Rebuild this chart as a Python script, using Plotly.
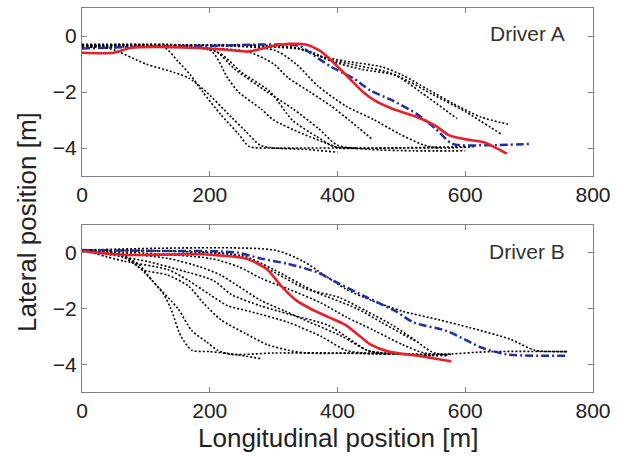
import plotly.graph_objects as go
from plotly.subplots import make_subplots

# ---------------- Driver A (top panel) ----------------
a_red_x = [0, 50, 77, 150, 200, 230, 262, 300, 325, 350, 374, 396, 418, 440, 458, 486, 525, 553, 575, 603, 630, 665]
a_red_y = [-0.6, -0.6, -0.42, -0.4, -0.45, -0.5, -0.55, -0.35, -0.28, -0.3, -0.55, -1.0, -1.5, -2.0, -2.3, -2.6, -2.9, -3.2, -3.55, -3.7, -3.8, -4.2]

a_blue_x = [0, 100, 200, 340, 357, 390, 424, 452, 486, 525, 553, 580, 637, 704]
a_blue_y = [-0.45, -0.38, -0.35, -0.35, -0.6, -1.1, -1.5, -1.95, -2.3, -2.8, -3.3, -3.85, -3.9, -3.85]

a_dot_x = [
    [0, 44, 100, 144, 167, 190, 234, 256, 279, 300, 350, 400],
    [0, 128, 150, 170, 189, 217, 245, 262, 290, 350, 420, 500, 560],
    [0, 200, 228, 245, 280, 300, 346, 390, 402, 480, 600],
    [0, 205, 240, 290, 330, 370, 400, 450, 520, 600],
    [0, 210, 250, 295, 329, 368, 395, 430],
    [0, 257, 300, 323, 357, 390, 418, 455],
    [0, 300, 335, 370, 413, 458, 497, 536, 560, 614],
    [0, 330, 370, 413, 469, 502, 541, 580, 625, 667],
    [0, 340, 380, 430, 480, 510, 550, 600, 656],
    [0, 350, 390, 440, 490, 530, 587],
]
a_dot_y = [
    [-0.4, -0.45, -1.0, -1.3, -1.5, -1.9, -2.9, -3.4, -3.9, -4.0, -4.05, -4.15],
    [-0.4, -0.4, -0.9, -1.4, -2.0, -2.8, -3.5, -3.95, -4.0, -4.0, -4.0, -4.0, -4.0],
    [-0.35, -0.5, -1.5, -2.0, -2.6, -3.0, -3.5, -3.9, -4.0, -4.0, -3.95],
    [-0.35, -0.5, -1.2, -2.0, -2.6, -3.3, -3.9, -4.05, -4.1, -4.1],
    [-0.35, -0.55, -1.3, -2.0, -3.0, -3.6, -3.95, -4.0],
    [-0.4, -0.55, -1.0, -1.5, -2.0, -2.5, -3.0, -3.7],
    [-0.35, -0.5, -1.0, -1.8, -2.5, -3.0, -3.5, -3.9, -4.0, -3.95],
    [-0.35, -0.4, -0.7, -0.9, -1.1, -1.4, -1.9, -2.4, -2.9, -3.15],
    [-0.35, -0.45, -0.8, -1.05, -1.3, -1.6, -2.1, -2.7, -3.5],
    [-0.3, -0.5, -0.9, -1.2, -1.4, -2.0, -2.95],
]

# ---------------- Driver B (bottom panel) ----------------
b_red_x = [0, 50, 77, 190, 217, 256, 290, 312, 335, 357, 385, 413, 435, 452, 480, 525, 578]
b_red_y = [0.05, -0.05, -0.08, -0.05, -0.1, -0.2, -0.6, -1.2, -1.7, -2.0, -2.3, -2.6, -3.0, -3.3, -3.55, -3.7, -3.9]

b_blue_x = [0, 100, 217, 245, 279, 323, 368, 402, 446, 491, 519, 570, 598, 625, 665, 760]
b_blue_y = [0.1, 0.07, 0.05, 0.0, -0.2, -0.4, -0.7, -1.1, -1.6, -2.1, -2.5, -2.8, -3.1, -3.4, -3.65, -3.7]

b_dot_x = [
    [0, 50, 88, 110, 128, 139, 155, 172, 200, 240, 279],
    [0, 50, 88, 110, 150, 172, 195, 212, 234, 300, 400, 480],
    [0, 66, 94, 134, 167, 190, 217, 256, 290, 323, 350, 450, 560, 640, 760],
    [0, 66, 134, 167, 200, 228, 262, 323, 374, 413, 440, 520, 570],
    [0, 100, 150, 206, 234, 279, 323, 385, 413, 446, 470, 550],
    [0, 134, 184, 217, 245, 279, 318, 357, 407, 446, 470, 560],
    [0, 200, 245, 279, 323, 374, 413, 458, 502, 536, 581],
    [0, 230, 267, 301, 351, 402, 446, 486, 519, 547, 575],
    [0, 300, 346, 379, 413, 452, 502, 558, 609, 670, 709, 760],
    [0, 250, 300, 365, 430, 469, 508, 525],
]
b_dot_y = [
    [0.05, 0.0, -0.5, -1.0, -1.5, -2.0, -3.0, -3.5, -3.55, -3.65, -3.8],
    [0.05, 0.0, -0.4, -1.0, -2.0, -2.8, -3.2, -3.5, -3.65, -3.6, -3.6, -3.65],
    [0.1, -0.1, -0.6, -0.8, -1.2, -1.8, -2.4, -2.9, -3.3, -3.5, -3.6, -3.6, -3.65, -3.55, -3.55],
    [0.1, -0.3, -0.6, -1.0, -1.5, -1.9, -2.1, -2.5, -3.0, -3.5, -3.6, -3.65, -3.7],
    [0.1, -0.3, -0.6, -1.0, -1.5, -1.9, -2.2, -2.6, -3.0, -3.5, -3.6, -3.7],
    [0.1, -0.2, -0.5, -0.8, -1.2, -1.7, -2.1, -2.5, -3.0, -3.5, -3.6, -3.7],
    [0.1, -0.2, -0.5, -0.9, -1.3, -1.8, -2.3, -2.8, -3.3, -3.6, -3.65],
    [0.1, -0.05, -0.3, -0.7, -1.3, -1.6, -2.1, -2.6, -3.1, -3.55, -3.7],
    [0.1, 0.1, -0.3, -0.8, -1.3, -1.7, -2.1, -2.4, -2.7, -3.1, -3.5, -3.55],
    [0.1, -0.1, -0.6, -1.4, -2.0, -2.5, -3.0, -3.2],
]

x_ticks = [0, 200, 400, 600, 800]
y_ticks = [0, -2, -4]
y_tick_text = ["0", "\u22122", "\u22124"]

FONT = "Liberation Sans, Arial, sans-serif"
RED = "#e8202a"
BLUE = "#2030a0"

fig = make_subplots(rows=2, cols=1, vertical_spacing=0.125)

panels = [
    (1, a_dot_x, a_dot_y, a_blue_x, a_blue_y, a_red_x, a_red_y),
    (2, b_dot_x, b_dot_y, b_blue_x, b_blue_y, b_red_x, b_red_y),
]
for row, dx, dy, bx, by, rx, ry in panels:
    for xs, ys in zip(dx, dy):
        fig.add_trace(go.Scatter(x=xs, y=ys, mode="lines",
                                 line=dict(color="black", width=1.6, dash="2px,2px",
                                           shape="spline", smoothing=0.7),
                                 showlegend=False, hoverinfo="skip"), row=row, col=1)
    fig.add_trace(go.Scatter(x=bx, y=by, mode="lines",
                             line=dict(color=BLUE, width=2.5, dash="8px,3px,2px,3px",
                                       shape="spline", smoothing=0.7),
                             showlegend=False), row=row, col=1)
    fig.add_trace(go.Scatter(x=rx, y=ry, mode="lines",
                             line=dict(color=RED, width=2.6, shape="spline", smoothing=0.7),
                             showlegend=False), row=row, col=1)

axis_common = dict(showgrid=False, zeroline=False, showline=True, linecolor="#808080",
                   linewidth=1.2, mirror="ticks", ticks="inside", ticklen=5,
                   tickcolor="#808080", automargin=False,
                   tickfont=dict(family=FONT, size=21, color="#222222"))
for r in (1, 2):
    fig.update_xaxes(range=[0, 800], tickvals=x_ticks, **axis_common, row=r, col=1)
    fig.update_yaxes(range=[-5, 1], tickvals=y_ticks, ticktext=y_tick_text,
                     **axis_common, row=r, col=1)

fig.update_layout(
    width=622, height=456,
    margin=dict(l=82, r=29, t=8, b=64, autoexpand=False),
    paper_bgcolor="white", plot_bgcolor="white",
    font=dict(family=FONT, color="#222222"),
)
fig.update_layout(yaxis=dict(domain=[0.5625, 1.0]), yaxis2=dict(domain=[0.0, 0.435]))

fig.add_annotation(text="Driver A", xref="x", yref="y", x=760, y=0.09, xanchor="right",
                   yanchor="middle", showarrow=False, font=dict(family=FONT, size=21, color="#333333"))
fig.add_annotation(text="Driver B", xref="x2", yref="y2", x=760, y=0.05, xanchor="right",
                   yanchor="middle", showarrow=False, font=dict(family=FONT, size=21, color="#333333"))
fig.add_annotation(text="Longitudinal position [m]", xref="paper", yref="paper", x=0.5, y=-0.12,
                   xanchor="center", yanchor="middle", showarrow=False,
                   font=dict(family=FONT, size=26, color="#222222"))
fig.add_annotation(text="Lateral position [m]", xref="paper", yref="paper", x=-0.1076, y=0.443,
                   xanchor="center", yanchor="middle", textangle=-90, showarrow=False,
                   font=dict(family=FONT, size=26, color="#222222"))

fig.write_html("out.html", config={"displayModeBar": False},
               post_script="document.body.style.margin='0';")
